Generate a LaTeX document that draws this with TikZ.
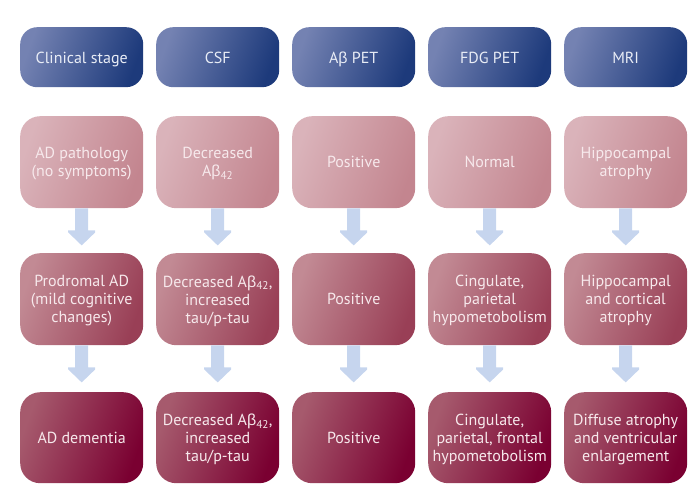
\documentclass[tikz,border=0pt]{standalone}
\usepackage{fontspec}
\setmainfont{PT Sans}
\newfontfamily\grk{Liberation Sans}
\newcommand\gbeta{{\grk β}}
\usetikzlibrary{calc}
\definecolor{hdA}{HTML}{7482B2}
\definecolor{hdB}{HTML}{1D3A7B}
\definecolor{rAa}{HTML}{DAB3BA}
\definecolor{rAb}{HTML}{C3858F}
\definecolor{rBa}{HTML}{C28A94}
\definecolor{rBb}{HTML}{993F56}
\definecolor{rCa}{HTML}{A65A6D}
\definecolor{rCb}{HTML}{7A0031}
\definecolor{arrowc}{HTML}{C6D5EE}
\definecolor{hdtext}{HTML}{E9EDF6}
\definecolor{rtext}{HTML}{F7E9EC}
\newcommand\dnarrow[1]{\fill[arrowc] ($(#1.south)+(-6.5,0)$) -- ++(0,22) -- ++(-7,0) -- ++(0,2) -- ++(13.5,13) -- ++(13.5,-13) -- ++(0,-2) -- ++(-7,0) -- ++(0,-22) -- cycle;}
\begin{document}
\begin{tikzpicture}[x=1pt,y=-1pt,
  box/.style={anchor=north west, minimum width=123pt, minimum height=92pt, inner sep=0pt,
    rounded corners=20pt, align=center, font=\fontsize{16}{18}\selectfont, text=rtext, text depth=0pt},
  hdr/.style={box, minimum height=60pt, rounded corners=17pt, left color=hdA, right color=hdB, shading angle=70, text=hdtext, text height=13.5pt, text depth=0pt},
  rowA/.style={box, left color=rAa, right color=rAb, shading angle=70},
  rowB/.style={box, left color=rBa, right color=rBb, shading angle=70},
  rowC/.style={box, minimum height=91pt, left color=rCa, right color=rCb, shading angle=70}]
\useasboundingbox (0,0) rectangle (695,487);
% headers
\node[hdr] (h1) at (20,27) {Clinical stage};
\node[hdr] (h2) at (156,27) {CSF};
\node[hdr] (h3) at (292,27) {A\gbeta{} PET};
\node[hdr] (h4) at (428,27) {FDG PET};
\node[hdr] (h5) at (564,27) {MRI};
% row A
\node[rowA] (a1) at (20,116) {AD pathology\\(no symptoms)};
\node[rowA] (a2) at (156,116) {Decreased\\A\gbeta\textsubscript{42}};
\node[rowA] (a3) at (292,116) {Positive};
\node[rowA] (a4) at (428,116) {Normal};
\node[rowA] (a5) at (564,116) {Hippocampal\\atrophy};
% row B
\node[rowB] (b1) at (20,253) {Prodromal AD\\(mild cognitive\\changes)};
\node[rowB] (b2) at (156,253) {Decreased A\gbeta\textsubscript{42},\\increased\\tau/p-tau};
\node[rowB] (b3) at (292,253) {Positive};
\node[rowB] (b4) at (428,253) {Cingulate,\\parietal\\hypometobolism};
\node[rowB] (b5) at (564,253) {Hippocampal\\and cortical\\atrophy};
% row C
\node[rowC] (c1) at (20,392) {AD dementia};
\node[rowC] (c2) at (156,392) {Decreased A\gbeta\textsubscript{42},\\increased\\tau/p-tau};
\node[rowC] (c3) at (292,392) {Positive};
\node[rowC] (c4) at (428,392) {Cingulate,\\parietal, frontal\\hypometobolism};
\node[rowC] (c5) at (564,392) {Diffuse atrophy\\and ventricular\\enlargement};
% arrows
\foreach \i in {1,...,5} {\dnarrow{a\i} \dnarrow{b\i}}
\end{tikzpicture}
\end{document}
